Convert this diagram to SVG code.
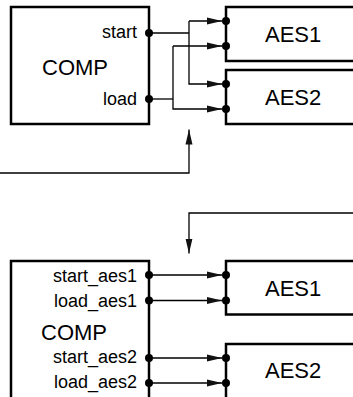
<svg xmlns="http://www.w3.org/2000/svg" width="353" height="397" viewBox="0 0 353 397">
  <style>
    .box { fill: #fff; stroke: #000; stroke-width: 2.5; }
    .dot { fill: #000; }
    .conn { fill: none; stroke: #000; stroke-width: 1.3; }
    .big { font-family: "Liberation Sans", Arial, sans-serif; font-size: 22px; fill: #000; }
    .lbl { font-family: "Liberation Sans", Arial, sans-serif; font-size: 18px; fill: #000; text-anchor: end; }
  </style>
  <defs>
    <marker id="arrow" markerUnits="userSpaceOnUse" markerWidth="15" markerHeight="8" viewBox="0 0 15 8" refX="15" refY="4" orient="auto">
      <path d="M0,0.5 L15,4 L0,7.5 Z" fill="#111"/>
    </marker>
  </defs>
  <rect width="353" height="397" fill="#fff"/>

  <!-- Top diagram -->
  <g id="connectors-top">
    <path class="conn" d="M149,33 H189"/>
    <path class="conn" d="M189,21 V84 H222" marker-end="url(#arrow)"/>
    <path class="conn" d="M189,21 H222" marker-end="url(#arrow)"/>
    <path class="conn" d="M149,99 H173"/>
    <path class="conn" d="M173,46 V109 H222" marker-end="url(#arrow)"/>
    <path class="conn" d="M173,46 H222" marker-end="url(#arrow)"/>
    <path class="conn" d="M0,173 H189 V129.5" marker-end="url(#arrow)"/>
  </g>
  <g id="comp-top">
    <rect class="box" x="11" y="7" width="138" height="117"/>
    <text class="big" x="42" y="75">COMP</text>
    <text class="lbl" x="137" y="38">start</text>
    <text class="lbl" x="137" y="105">load</text>
    <circle class="dot" cx="149" cy="33" r="4"/>
    <circle class="dot" cx="149" cy="99" r="4"/>
  </g>
  <g id="aes1-top">
    <rect class="box" x="226" y="7" width="140" height="54"/>
    <text class="big" x="265" y="42">AES1</text>
    <circle class="dot" cx="226" cy="21" r="4"/>
    <circle class="dot" cx="226" cy="46" r="4"/>
  </g>
  <g id="aes2-top">
    <rect class="box" x="226" y="70" width="140" height="54"/>
    <text class="big" x="265" y="105">AES2</text>
    <circle class="dot" cx="226" cy="84" r="4"/>
    <circle class="dot" cx="226" cy="109" r="4"/>
  </g>

  <!-- Bottom diagram -->
  <g id="connectors-bottom">
    <path class="conn" d="M353,213 H189 V253.5" marker-end="url(#arrow)"/>
    <path class="conn" d="M149,275 H222" marker-end="url(#arrow)"/>
    <path class="conn" d="M149,300.5 H222" marker-end="url(#arrow)"/>
    <path class="conn" d="M149,358 H222" marker-end="url(#arrow)"/>
    <path class="conn" d="M149,383 H222" marker-end="url(#arrow)"/>
  </g>
  <g id="comp-bottom">
    <rect class="box" x="11" y="261" width="138" height="150"/>
    <text class="big" x="41" y="340">COMP</text>
    <text class="lbl" x="137" y="282">start_aes1</text>
    <text class="lbl" x="137" y="307">load_aes1</text>
    <text class="lbl" x="137" y="363">start_aes2</text>
    <text class="lbl" x="137" y="388">load_aes2</text>
    <circle class="dot" cx="149" cy="275" r="4"/>
    <circle class="dot" cx="149" cy="300.5" r="4"/>
    <circle class="dot" cx="149" cy="358" r="4"/>
    <circle class="dot" cx="149" cy="383" r="4"/>
  </g>
  <g id="aes1-bottom">
    <rect class="box" x="226" y="261" width="140" height="53.5"/>
    <text class="big" x="265" y="296">AES1</text>
    <circle class="dot" cx="226" cy="275" r="4"/>
    <circle class="dot" cx="226" cy="300.5" r="4"/>
  </g>
  <g id="aes2-bottom">
    <rect class="box" x="226" y="344" width="140" height="70"/>
    <text class="big" x="265" y="378">AES2</text>
    <circle class="dot" cx="226" cy="358" r="4"/>
    <circle class="dot" cx="226" cy="383" r="4"/>
  </g>
</svg>
